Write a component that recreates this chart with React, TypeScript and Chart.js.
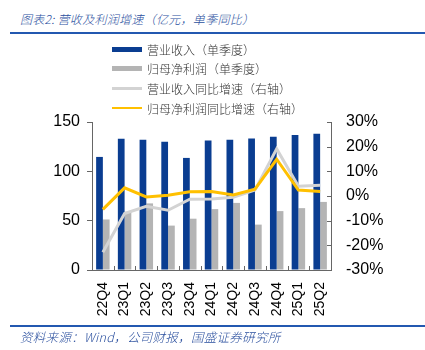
import React, { useEffect, useRef } from "react";
import { Chart, registerables } from "chart.js";

Chart.register(...registerables);

const categories = ["22Q4", "23Q1", "23Q2", "23Q3", "23Q4", "24Q1", "24Q2", "24Q3", "24Q4", "25Q1", "25Q2"];
const revenue = [114.6, 133, 132, 130, 113.6, 131.3, 132, 133.4, 135, 136.7, 138];
const netProfit = [51.2, 59, 67.5, 45, 52, 61.7, 68, 46, 59.7, 62.7, 69];
const revenueYoY = [-22.8, -7.1, -4.2, -5.8, -1.3, -1.2, -0.5, 2.4, 19.1, 4.0, 4.4];
const profitYoY = [-5.4, 3.3, -0.4, 0.3, 1.7, 1.8, 0.4, 2.8, 14.9, 2.4, 1.8];
const leftTicks = [0, 50, 100, 150];
const rightTicks = [-30, -20, -10, 0, 10, 20, 30];

const legendItems = [
  { label: "营业收入（单季度）", color: "#0A3D91", kind: "bar" },
  { label: "归母净利润（单季度）", color: "#B4B4B4", kind: "bar" },
  { label: "营业收入同比增速（右轴）", color: "#D3D3D3", kind: "line" },
  { label: "归母净利润同比增速（右轴）", color: "#FFC000", kind: "line" },
];

const AXIS = "#666666";
const LATIN = "'Liberation Sans', Arial, sans-serif";
const CJK = "'Noto Sans CJK SC', sans-serif";

const innerTicks = {
  id: "innerTicks",
  afterDraw(chart: any) {
    const { ctx, chartArea, scales } = chart;
    ctx.save();
    ctx.strokeStyle = AXIS;
    ctx.lineWidth = 1;
    const xs = scales.x;
    const half = (xs.getPixelForValue(1) - xs.getPixelForValue(0)) / 2;
    for (let i = 0; i <= categories.length; i++) {
      const x = Math.round(xs.getPixelForValue(i) - half) + 0.5;
      ctx.beginPath();
      ctx.moveTo(x, chartArea.bottom - 4);
      ctx.lineTo(x, chartArea.bottom);
      ctx.stroke();
    }
    const y2 = scales.y2;
    rightTicks.forEach((v) => {
      const y = Math.round(y2.getPixelForValue(v)) + 0.5;
      ctx.beginPath();
      ctx.moveTo(chartArea.right - 4, y);
      ctx.lineTo(chartArea.right, y);
      ctx.stroke();
    });
    ctx.restore();
  },
};

export default function App() {
  const ref = useRef<HTMLCanvasElement>(null);

  useEffect(() => {
    if (!ref.current) return;
    const chart = new Chart(ref.current, {
      type: "bar",
      data: {
        labels: categories,
        datasets: [
          {
            type: "line",
            label: "归母净利润同比增速（右轴）",
            data: profitYoY,
            yAxisID: "y2",
            borderColor: "#FFC000",
            borderWidth: 3,
            pointRadius: 0,
            tension: 0,
            order: 0,
          },
          {
            type: "line",
            label: "营业收入同比增速（右轴）",
            data: revenueYoY,
            yAxisID: "y2",
            borderColor: "#D3D3D3",
            borderWidth: 3,
            pointRadius: 0,
            tension: 0,
            order: 1,
          },
          {
            type: "bar",
            label: "营业收入（单季度）",
            data: revenue,
            yAxisID: "y",
            backgroundColor: "#0A3D91",
            categoryPercentage: 0.62,
            barPercentage: 1,
            order: 2,
          },
          {
            type: "bar",
            label: "归母净利润（单季度）",
            data: netProfit,
            yAxisID: "y",
            backgroundColor: "#B4B4B4",
            categoryPercentage: 0.62,
            barPercentage: 1,
            order: 2,
          },
        ],
      },
      options: {
        responsive: false,
        animation: false,
        devicePixelRatio: 1,
        layout: { padding: { top: 122, left: 0, right: 0, bottom: 0 } },
        plugins: { legend: { display: false }, tooltip: { enabled: false }, title: { display: false } },
        scales: {
          x: {
            grid: { display: false, drawTicks: false },
            border: { display: true, color: AXIS, width: 1 },
            ticks: {
              minRotation: 90,
              maxRotation: 90,
              padding: 12,
              color: "#000",
              font: { family: LATIN, size: 14 },
            },
            afterFit: (s: any) => {
              s.height = 80;
            },
          },
          y: {
            position: "left",
            min: 0,
            max: 150,
            afterBuildTicks: (s: any) => {
              s.ticks = leftTicks.map((v) => ({ value: v }));
            },
            grid: { drawOnChartArea: false, drawTicks: true, tickLength: 5, color: AXIS },
            border: { display: true, color: AXIS, width: 1 },
            ticks: { padding: 7, color: "#000", font: { family: LATIN, size: 16 } },
            afterFit: (s: any) => {
              s.width = 92;
            },
          },
          y2: {
            position: "right",
            min: -30,
            max: 30,
            afterBuildTicks: (s: any) => {
              s.ticks = rightTicks.map((v) => ({ value: v }));
            },
            grid: { drawOnChartArea: false, drawTicks: false },
            border: { display: true, color: AXIS, width: 1 },
            ticks: {
              padding: 15,
              color: "#000",
              font: { family: LATIN, size: 16 },
              callback: (v: any) => `${v}%`,
            },
            afterFit: (s: any) => {
              s.width = 94;
            },
          },
        },
      },
      plugins: [innerTicks],
    });
    return () => chart.destroy();
  }, []);

  return (
    <div style={{ position: "fixed", left: 0, top: 0, width: 425, height: 350, background: "#fff", overflow: "hidden" }}>
      <div
        style={{
          position: "absolute",
          left: 20,
          top: 10,
          fontFamily: CJK,
          fontStyle: "italic",
          fontWeight: 300,
          fontSize: 12,
          color: "#2A4F9E",
          whiteSpace: "nowrap",
          letterSpacing: 0.3,
        }}
      >
        图表2: 营收及利润增速（亿元，单季同比）
      </div>
      <div style={{ position: "absolute", left: 10, top: 32, width: 415, height: 2, background: "#2358B0" }} />
      <canvas ref={ref} width={425} height={350} style={{ position: "absolute", left: 0, top: 0, width: 425, height: 350 }} />
      {legendItems.map((it, i) => (
        <div
          key={it.label}
          style={{
            position: "absolute",
            left: 112,
            top: 39 + i * 19.7,
            height: 20,
            display: "flex",
            alignItems: "center",
            whiteSpace: "nowrap",
          }}
        >
          <div style={{ width: 30, height: it.kind === "bar" ? 5 : 2.5, background: it.color, marginRight: 5 }} />
          <span style={{ fontFamily: CJK, fontSize: 12, fontWeight: 300, color: "#333", letterSpacing: 0 }}>{it.label}</span>
        </div>
      ))}
      <div style={{ position: "absolute", left: 10, top: 325, width: 415, height: 2, background: "#2358B0" }} />
      <div
        style={{
          position: "absolute",
          left: 20,
          top: 327,
          fontFamily: CJK,
          fontStyle: "italic",
          fontWeight: 300,
          fontSize: 12.5,
          color: "#2A4F9E",
          whiteSpace: "nowrap",
          letterSpacing: 0.3,
        }}
      >
        资料来源：Wind，公司财报，国盛证券研究所
      </div>
    </div>
  );
}
